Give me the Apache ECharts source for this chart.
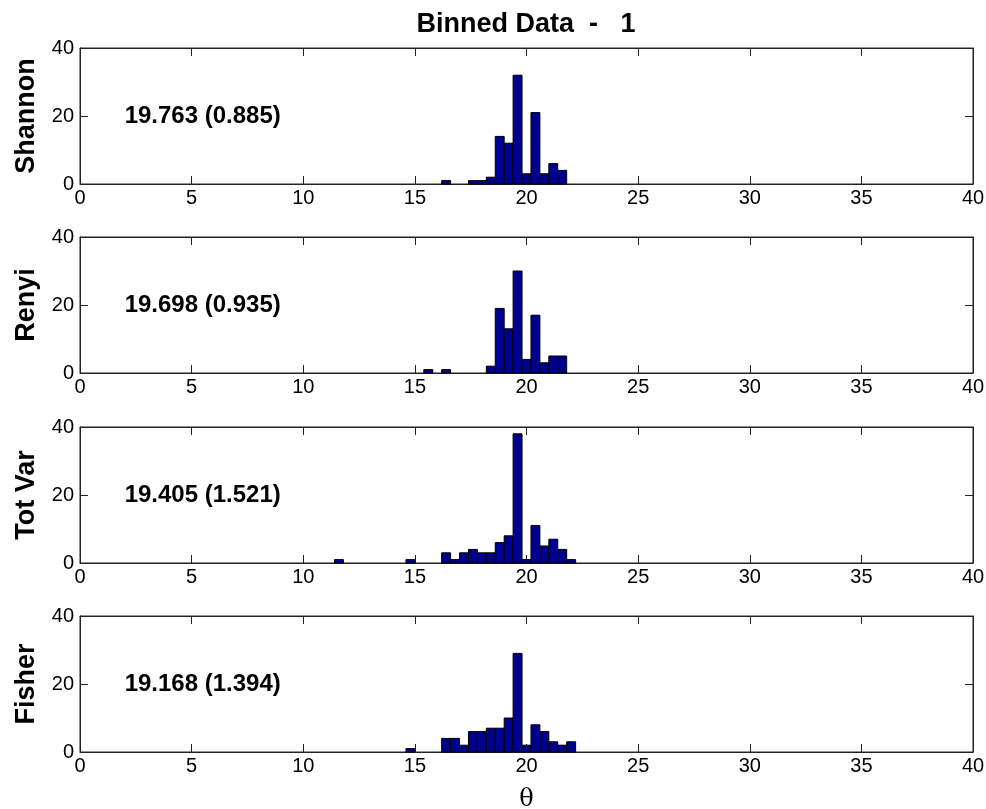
<!DOCTYPE html>
<html>
<head>
<meta charset="utf-8">
<script src="https://cdn.jsdelivr.net/npm/echarts@6/dist/echarts.min.js"></script>
<style>
  html, body { margin: 0; padding: 0; background: #fff; }
  #chart { width: 986px; height: 809px; }
</style>
</head>
<body>
<div id="chart"></div>
<script>
// bin centers (theta) and counts; bin width 0.4
const BIN = 0.4;
const panelNames = ["Shannon", "Renyi", "Tot Var", "Fisher"];
const panelNotes = ["19.763 (0.885)", "19.698 (0.935)", "19.405 (1.521)", "19.168 (1.394)"];

const shannonX = [16.4, 17.6, 18.0, 18.4, 18.8, 19.2, 19.6, 20.0, 20.4, 20.8, 21.2, 21.6];
const shannonY = [1, 1, 1, 2, 14, 12, 32, 3, 21, 3, 6, 4];

const renyiX = [15.6, 16.4, 18.4, 18.8, 19.2, 19.6, 20.0, 20.4, 20.8, 21.2, 21.6];
const renyiY = [1, 1, 2, 19, 13, 30, 4, 17, 3, 5, 5];

const totVarX = [11.6, 14.8, 16.4, 16.8, 17.2, 17.6, 18.0, 18.4, 18.8, 19.2, 19.6, 20.0, 20.4, 20.8, 21.2, 21.6, 22.0];
const totVarY = [1, 1, 3, 1, 3, 4, 3, 3, 6, 8, 38, 1, 11, 5, 7, 4, 1];

const fisherX = [14.8, 16.4, 16.8, 17.2, 17.6, 18.0, 18.4, 18.8, 19.2, 19.6, 20.0, 20.4, 20.8, 21.2, 21.6, 22.0];
const fisherY = [1, 4, 4, 2, 6, 6, 7, 7, 10, 29, 2, 8, 6, 3, 2, 3];

const noteAt = [2, 20]; // where the note text starts, data coords

const panelData = [
  [shannonX, shannonY],
  [renyiX, renyiY],
  [totVarX, totVarY],
  [fisherX, fisherY],
];

const chart = echarts.init(document.getElementById("chart"));

const FONT = "'Liberation Sans', Arial, sans-serif";
const lineCol = "#222";
const tops = [48, 237, 427, 616];
const H = 136;

const grid = [];
const xAxis = [];
const yAxis = [];
const series = [];

tops.forEach((top, i) => {
  grid.push({
    left: 80, right: 13, top: top, height: H,
    show: true, borderColor: lineCol, borderWidth: 1,
    containLabel: false, outerBoundsMode: "none",
  });

  // bottom x axis with labels
  xAxis.push({
    type: "value", gridIndex: i, min: 0, max: 40, interval: 5,
    position: "bottom",
    axisLine: { onZero: false, lineStyle: { color: lineCol, width: 1 } },
    axisTick: { inside: true, length: 8, lineStyle: { color: lineCol } },
    axisLabel: { fontFamily: FONT, fontSize: 20, color: "#000", margin: 4 },
    splitLine: { show: false },
    name: i === 3 ? "θ" : "",
    nameLocation: "middle",
    nameGap: 36,
    nameTextStyle: { fontFamily: "'DejaVu Serif', serif", fontSize: 24, color: "#000" },
  });
  // top x axis, ticks only (box)
  xAxis.push({
    type: "value", gridIndex: i, min: 0, max: 40, interval: 5,
    position: "top",
    axisLine: { show: true, onZero: false, lineStyle: { color: lineCol, width: 1 } },
    axisTick: { show: true, inside: true, length: 8, lineStyle: { color: lineCol } },
    axisLabel: { show: false },
    splitLine: { show: false },
  });
  yAxis.push({
    type: "value", gridIndex: i, min: 0, max: 40, interval: 20,
    position: "left",
    axisLine: { show: true, onZero: false, lineStyle: { color: lineCol, width: 1 } },
    axisTick: { show: true, inside: true, length: 8, lineStyle: { color: lineCol } },
    axisLabel: { fontFamily: FONT, fontSize: 20, color: "#000", margin: 6 },
    splitLine: { show: false },
    name: panelNames[i],
    nameLocation: "middle",
    nameGap: 40,
    nameTextStyle: { fontFamily: FONT, fontSize: 27, fontWeight: "bold", color: "#000" },
  });
  yAxis.push({
    type: "value", gridIndex: i, min: 0, max: 40, interval: 20,
    position: "right",
    axisLine: { show: true, onZero: false, lineStyle: { color: lineCol, width: 1 } },
    axisTick: { show: true, inside: true, length: 8, lineStyle: { color: lineCol } },
    axisLabel: { show: false },
    splitLine: { show: false },
  });

  const [xs, ys] = panelData[i];
  series.push({
    type: "custom",
    xAxisIndex: i * 2,
    yAxisIndex: i * 2,
    data: xs.map((x, k) => [x, ys[k]]),
    encode: { x: 0, y: 1 },
    renderItem: (params, api) => {
      const x = api.value(0);
      const y = api.value(1);
      const p0 = api.coord([x - BIN / 2, y]);
      const p1 = api.coord([x + BIN / 2, 0]);
      return {
        type: "rect",
        shape: { x: p0[0], y: p0[1], width: p1[0] - p0[0], height: p1[1] - p0[1] },
        style: { fill: "#00008f", stroke: "#000", lineWidth: 1 },
      };
    },
    silent: true,
  });

  // note text, anchored in data coords
  series.push({
    type: "custom",
    xAxisIndex: i * 2,
    yAxisIndex: i * 2,
    data: [[noteAt[0], noteAt[1]]],
    encode: { x: 0, y: 1 },
    renderItem: (params, api) => {
      const p = api.coord([api.value(0), api.value(1)]);
      return {
        type: "text",
        x: p[0], y: p[1],
        style: {
          text: panelNotes[i],
          font: "bold 24px " + FONT,
          fill: "#000",
          align: "left",
          verticalAlign: "middle",
        },
      };
    },
    silent: true,
  });

  // empty series so the top / right box axes get drawn
  series.push({
    type: "custom",
    xAxisIndex: i * 2 + 1,
    yAxisIndex: i * 2 + 1,
    data: [[0, 0]],
    encode: { x: 0, y: 1 },
    renderItem: () => ({ type: "group", children: [] }),
    silent: true,
  });
});

const option = {
  animation: false,
  backgroundColor: "#fff",
  title: {
    text: "Binned Data  -   1",
    left: 521,
    textAlign: "center",
    top: 6,
    textStyle: { fontFamily: FONT, fontSize: 27, fontWeight: "bold", color: "#000" },
  },
  grid: grid,
  xAxis: xAxis,
  yAxis: yAxis,
  series: series,
};

chart.setOption(option);
</script>
</body>
</html>
